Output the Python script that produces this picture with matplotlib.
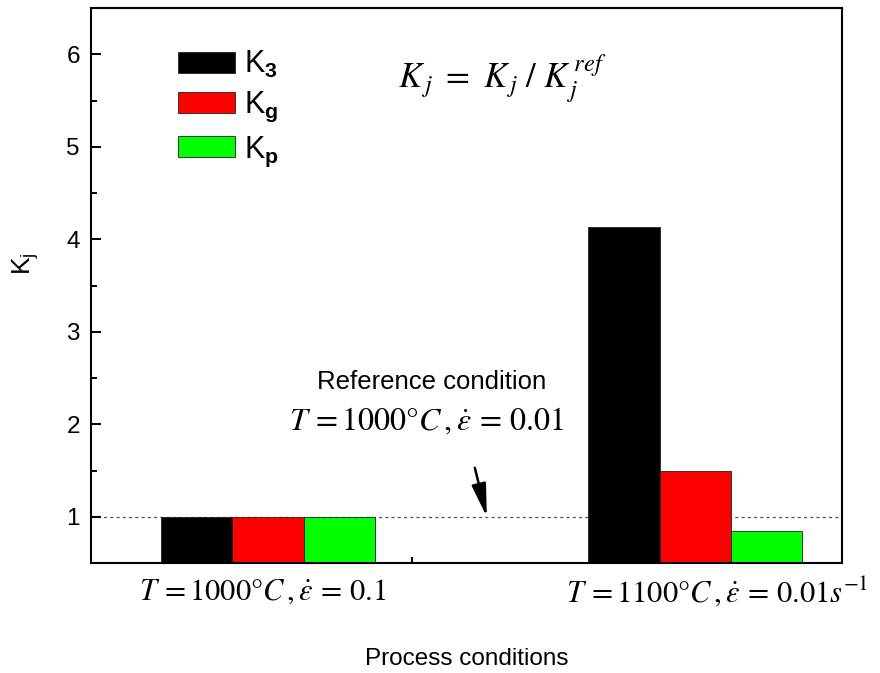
import numpy as np
import matplotlib.pyplot as plt
from matplotlib.ticker import FixedLocator, MultipleLocator

plt.rcParams['font.family'] = ['Liberation Sans', 'DejaVu Sans']
plt.rcParams['mathtext.fontset'] = 'custom'
plt.rcParams['mathtext.rm'] = 'Liberation Sans'
plt.rcParams['mathtext.it'] = 'Liberation Sans:italic'
plt.rcParams['mathtext.bf'] = 'Liberation Sans:bold'

# data
conditions = [r'$T\,{=}1000°C\,,\dot{\varepsilon}\,{=}\,0.1$',
              r'$T\,{=}1100°C\,,\dot{\varepsilon}\,{=}\,0.01s^{-1}$']
label_shift = [-0.012, 0.05]   # small horizontal nudges of the condition labels
series = ['K3', 'Kg', 'Kp']
labels = [r'K$_\mathbf{3}$', r'K$_\mathbf{g}$', r'K$_\mathbf{p}$']
K3 = [1.0, 4.13]
Kg = [1.0, 1.50]
Kp = [1.0, 0.85]
colors = ['#000000', '#ff0000', '#00ff00']

x = np.array([1.0, 2.0])
w = 0.1668

fig = plt.figure(figsize=(8.8, 6.73), dpi=100)
ax = fig.add_axes([0.1034, 0.1634, 0.8534, 0.8246])

for i, vals in enumerate([K3, Kg, Kp]):
    ax.bar(x + (i - 1) * w, vals, width=w, color=colors[i], edgecolor='#202020',
           linewidth=0.6, label=labels[i], zorder=2)

ax.axhline(1.0, color='#555555', linestyle=(0, (2.5, 2.5)), linewidth=0.9, zorder=1)

ax.set_xlim(0.586, 2.343)
ax.set_ylim(0.5, 6.5)

ax.yaxis.set_major_locator(MultipleLocator(1))
ax.yaxis.set_minor_locator(FixedLocator([1.5, 2.5, 3.5, 4.5, 5.5, 6.5]))
ax.xaxis.set_major_locator(FixedLocator([1.337]))
ax.set_xticklabels([''])
ax.tick_params(axis='y', which='major', direction='in', length=7, width=1.4, labelsize=17.5, pad=8)
ax.tick_params(axis='y', which='minor', direction='in', length=4, width=1.4)
ax.tick_params(axis='x', which='major', direction='in', length=4, width=1.4)
for s in ax.spines.values():
    s.set_linewidth(1.5)

for xi, lab, dx in zip(x, conditions, label_shift):
    ax.text(xi + dx, -0.052, lab, transform=ax.get_xaxis_transform(), ha='center', va='center',
            fontsize=22, math_fontfamily='stix')

ax.set_xlabel('Process conditions', fontsize=17.5, labelpad=58)
ax.set_ylabel(r'K$_\mathrm{j}$', fontsize=19)
ax.yaxis.set_label_coords(-0.067, 0.54)

ax.text(1.547, 5.74, r'$K_{\,j}\ =\ K_{\,j}\ /\ K_{\,j}^{\,ref}$', fontsize=25,
        ha='center', va='center', math_fontfamily='stix')

ax.text(1.384, 2.46, 'Reference condition', fontsize=18.5, ha='center', va='center')
ax.text(1.372, 2.03, r'$T\,{=}1000°C\,,\dot{\varepsilon}\,{=}\,0.01$', fontsize=23,
        ha='center', va='center', math_fontfamily='stix')
ax.annotate('', xy=(1.512, 1.0), xytext=(1.484, 1.53),
            arrowprops=dict(arrowstyle='-|>,head_length=1.0,head_width=0.22',
                            color='black', lw=1.8, mutation_scale=20, shrinkA=0, shrinkB=0))

ax.legend(loc='upper left', bbox_to_anchor=(0.079, 0.976), frameon=False, fontsize=22,
          handlelength=1.87, handleheight=0.7, labelspacing=0.33, handletextpad=0.3)

fig.savefig('out.png', dpi=100)
